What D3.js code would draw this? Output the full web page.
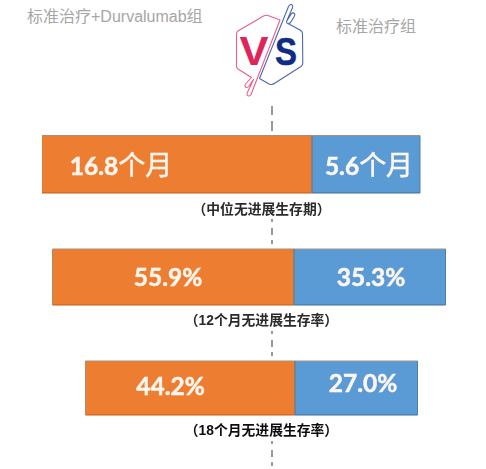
<!DOCTYPE html>
<html><head><meta charset="utf-8">
<script src="https://cdn.jsdelivr.net/npm/d3@7/dist/d3.min.js"></script>
<style>html,body{margin:0;padding:0;background:#fff}svg{display:block}</style>
</head><body><svg id="c" width="486" height="469"></svg>
<script>
const groupNames = ["标准治疗+Durvalumab组", "标准治疗组"];
const endpoints = ["（中位无进展生存期）", "（12个月无进展生存率）", "（18个月无进展生存率）"];
const durvaValues = [16.8, 55.9, 44.2];
const standardValues = [5.6, 35.3, 27.0];
const valueUnits = ["个月", "%", "%"];
const rowLeft = [42, 52.5, 85.5], rowSplit = [312, 294, 295], rowRight = [420, 445.5, 417.5];
const rowTop = [135.5, 249, 361], rowBottom = [193, 305, 415];
const durvaLabelX = [121, 168, 170.5], stdLabelX = [369, 371, 363];
const durvaLabelY = [175, 286, 395], stdLabelY = [175, 286, 392];
const captionY = [213.5, 325, 435];

const svg = d3.select("#c");
const cjk = "'Noto Sans CJK SC'";
const defs = svg.append("defs");
const soft = defs.append("filter").attr("id","soft").attr("x","-5%").attr("y","-20%").attr("width","110%").attr("height","140%");
soft.append("feGaussianBlur").attr("stdDeviation",0.4);
const soft2 = defs.append("filter").attr("id","soft2").attr("x","-5%").attr("y","-20%").attr("width","110%").attr("height","140%");
soft2.append("feGaussianBlur").attr("stdDeviation",0.25);

// dashed centre line
[[106,115],[121,131],[219,222],[228,235],[240,244],[331,334],[340,347],[352,356],[441,444],[450,457],[462,466]].forEach(([a,b])=>{
  svg.append("line").attr("x1",272).attr("x2",272).attr("y1",a).attr("y2",b)
    .attr("stroke","#999").attr("stroke-width",2);
});

// group labels
svg.append("text").attr("x",27).attr("y",22).attr("fill","#a6a6a6").attr("font-size",16)
  .attr("font-family","'Liberation Sans',"+cjk).text(groupNames[0]);
svg.append("text").attr("x",336).attr("y",32).attr("fill","#a6a6a6").attr("font-size",16)
  .attr("font-family","'Liberation Sans',"+cjk).text(groupNames[1]);

// logo
const logo = svg.append("g").attr("fill","none").attr("stroke-linejoin","round").attr("stroke-linecap","round").attr("stroke-width",1.1);
logo.append("path").attr("stroke","#ea5f88")
  .attr("d","M280,20 L268,15.5 Q266,14.8 264,15.8 L238,31 Q236.5,32 236.5,34 L236.5,66 Q236.5,68 238,69 L251.5,77.5 L245.5,84 Q244.3,86.5 246,87.3 Q247.5,87.8 249,86 L253.5,79.5 L247.2,93 Q246.5,95.5 248.5,96 Q250,96.3 251,94.5 L280,20");
logo.append("path").attr("stroke","#4a68b5")
  .attr("d","M259.5,78.5 L288.5,6.5 Q290,4 291.5,4.6 Q293.2,5.4 292.6,7.5 L286.5,21.5 L291.5,13.5 Q293.3,12.2 294.6,13.6 Q295.4,15 294,17 L290.5,22.5 Q288.5,24.5 286.5,22.7 L300,30 Q302.5,31.5 302.5,33.5 L302.8,63 Q302.8,65.5 301,66.5 L275,83 Q272.5,85 269.5,84.3 L259.5,78.5");
logo.append("text").attr("x",254).attr("y",65).attr("font-family","'Liberation Sans'").attr("font-weight",700)
  .attr("font-size",40).attr("text-anchor","middle").attr("fill","#df2459").attr("stroke","none").attr("textLength",29).attr("lengthAdjust","spacingAndGlyphs").text("V");
logo.append("text").attr("x",286).attr("y",64.5).attr("font-family","'Liberation Sans'").attr("font-weight",700)
  .attr("font-size",39).attr("text-anchor","middle").attr("fill","#0f2b83").attr("stroke","#0f2b83").attr("stroke-width",0.5).attr("textLength",22).attr("lengthAdjust","spacingAndGlyphs").text("S");

// bars: one piecewise scale per row, zero at the split between the two groups
const rows = d3.range(durvaValues.length).map(i=>({
  i, a:durvaValues[i], b:standardValues[i],
  x:d3.scaleLinear().domain([-durvaValues[i],0,standardValues[i]]).range([rowLeft[i],rowSplit[i],rowRight[i]]),
  y:d3.scaleLinear().domain([0,1]).range([rowTop[i],rowBottom[i]])
}));
const g = svg.selectAll("g.row").data(rows).join("g").attr("class","row");
g.append("rect").attr("x",d=>d.x(-d.a)).attr("width",d=>d.x(0)-d.x(-d.a))
  .attr("y",d=>d.y(0)).attr("height",d=>d.y(1)-d.y(0)).attr("fill","#ed7d31");
g.append("rect").attr("x",d=>d.x(0)).attr("width",d=>d.x(d.b)-d.x(0))
  .attr("y",d=>d.y(0)).attr("height",d=>d.y(1)-d.y(0)).attr("fill","#5b9bd5");
// borders
g.append("line").attr("x1",d=>d.x(-d.a)).attr("x2",d=>d.x(d.b)).attr("y1",d=>d.y(0)).attr("y2",d=>d.y(0))
  .attr("stroke","#a5917f").attr("stroke-width",1.2);
g.append("line").attr("x1",d=>d.x(-d.a)).attr("x2",d=>d.x(0)).attr("y1",d=>d.y(1)).attr("y2",d=>d.y(1))
  .attr("stroke","#c65f1c").attr("stroke-width",1.2);
g.append("line").attr("x1",d=>d.x(0)).attr("x2",d=>d.x(d.b)).attr("y1",d=>d.y(1)).attr("y2",d=>d.y(1))
  .attr("stroke","#41719c").attr("stroke-width",1.2);
g.append("line").attr("x1",d=>d.x(0)).attr("x2",d=>d.x(0)).attr("y1",d=>d.y(0)).attr("y2",d=>d.y(1))
  .attr("stroke","#6f7f8c").attr("stroke-width",1.5);
g.append("line").attr("x1",d=>d.x(d.b)).attr("x2",d=>d.x(d.b)).attr("y1",d=>d.y(0)).attr("y2",d=>d.y(1))
  .attr("stroke","#4f7ea8").attr("stroke-width",1);
g.filter(d=>d.i>0).append("line").attr("x1",d=>d.x(-d.a)).attr("x2",d=>d.x(-d.a)).attr("y1",d=>d.y(0)).attr("y2",d=>d.y(1))
  .attr("stroke","#b08a6c").attr("stroke-width",1);

function addLabel(sel, val, i, x, y){
  const t = sel.append("text").attr("x",x).attr("y",y).attr("text-anchor","middle").attr("fill","#fdf6ee")
    .attr("stroke","#fdf6ee").attr("stroke-width",0.5)
    .attr("filter","url(#soft)").attr("font-family","Lato,"+cjk).attr("font-weight",700).attr("font-size",24.5);
  t.append("tspan").text(val.toFixed(1));
  const u = valueUnits[i];
  const s = t.append("tspan").text(u);
  if(u !== "%") s.attr("font-weight",400).attr("font-size",27).attr("font-family",cjk);
}
g.each(function(d){
  const s = d3.select(this);
  addLabel(s, d.a, d.i, durvaLabelX[d.i], durvaLabelY[d.i]);
  addLabel(s, d.b, d.i, stdLabelX[d.i], stdLabelY[d.i]);
  s.append("text").attr("x",261.5).attr("y",captionY[d.i]).attr("text-anchor","middle")
    .attr("font-family","'Liberation Sans',"+cjk).attr("font-weight",700).attr("font-size",13.8).attr("fill",d.i===2?"#111":"#2a2a2a")
    .attr("filter","url(#soft2)")
    .text(endpoints[d.i]);
});
</script></body></html>
